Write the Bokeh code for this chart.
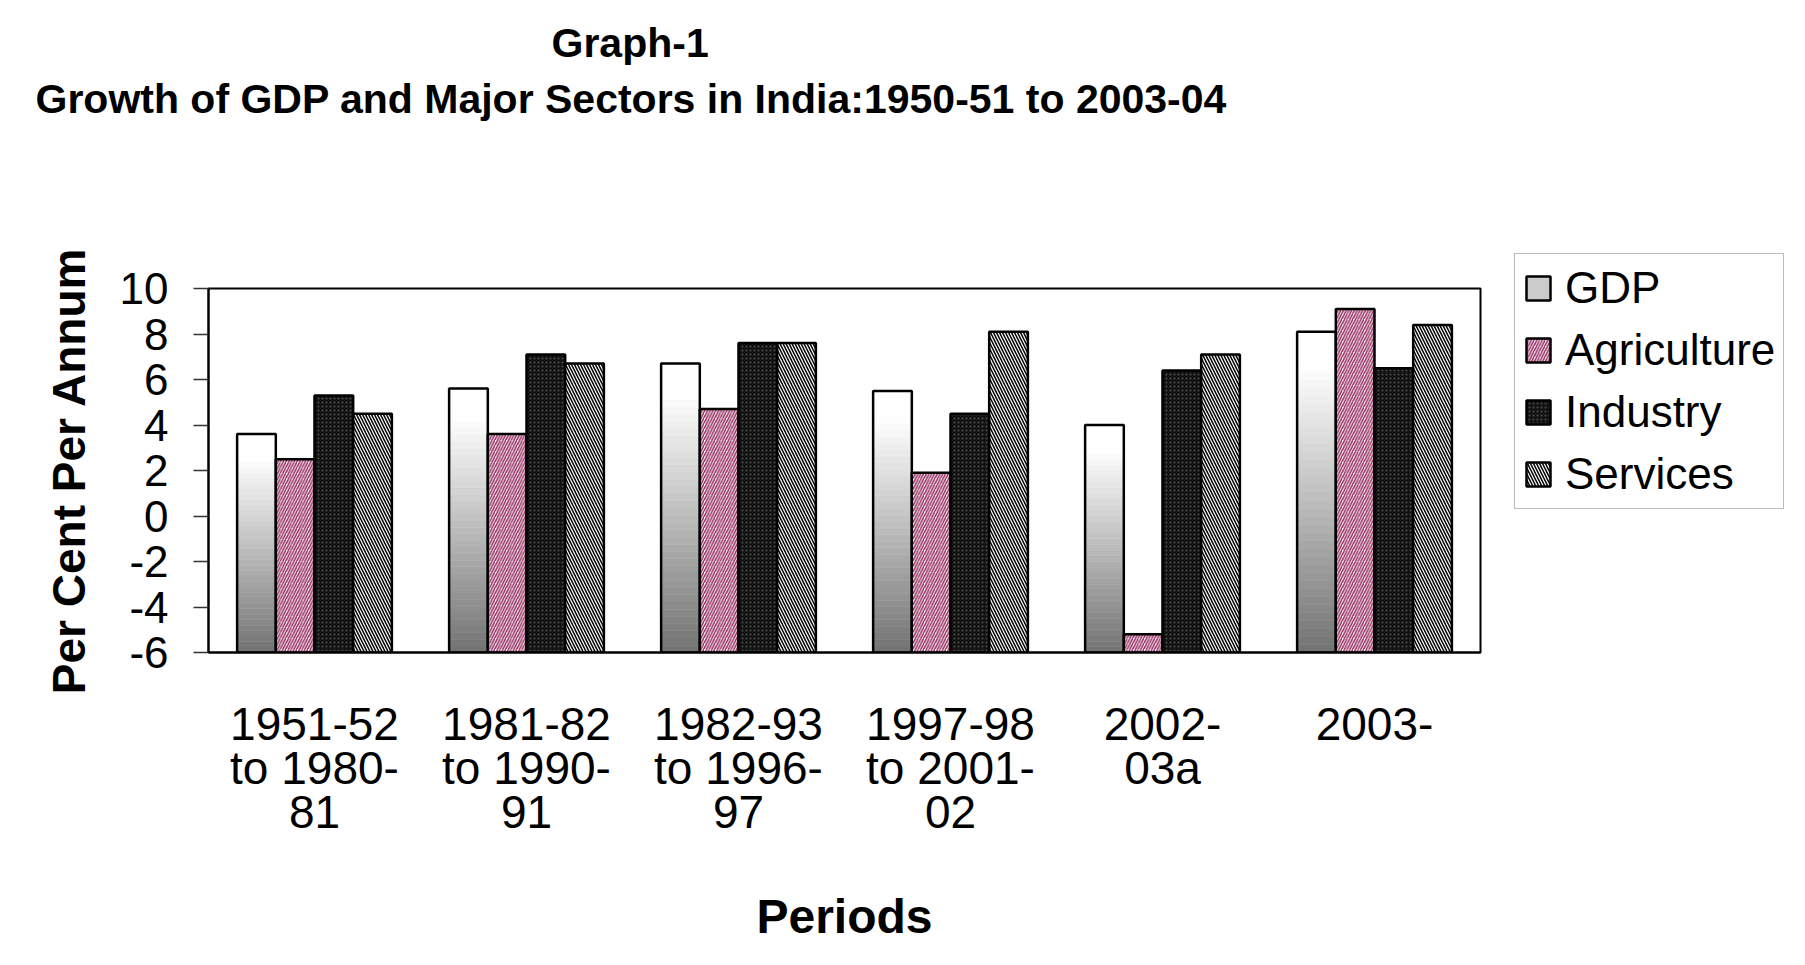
from bokeh.plotting import figure
from bokeh.models import (FactorRange, Range1d, FixedTicker, Legend, LegendItem,
                          Title, ColumnDataSource)
from bokeh.transform import dodge
from bokeh.embed import file_html
from bokeh.resources import INLINE

# ---------------- data ----------------
categories = ["1951-52\nto 1980-\n81", "1981-82\nto 1990-\n91", "1982-93\nto 1996-\n97",
              "1997-98\nto 2001-\n02", "2002-\n03a", "2003-"]
gdp = [3.6, 5.6, 6.7, 5.5, 4.0, 8.1]
agriculture = [2.5, 3.6, 4.7, 1.9, -5.2, 9.1]
industry = [5.3, 7.1, 7.6, 4.5, 6.4, 6.5]
services = [4.5, 6.7, 7.6, 8.1, 7.1, 8.4]
series_names = ["GDP", "Agriculture", "Industry", "Services"]
y_ticks = [-6, -4, -2, 0, 2, 4, 6, 8, 10]
y_tick_labels = ["-6", "-4", "-2", "0", "2", "4", "6", "8", "10"]
y_min, y_max = -6, 10
title_line1 = "Graph-1"
title_line2 = "Growth of GDP and Major Sectors in India:1950-51 to 2003-04"
x_title = "Periods"
y_title = "Per Cent Per Annum"

FONT = "Liberation Sans"
BW = 0.1825
offs = [-1.5 * BW, -0.5 * BW, 0.5 * BW, 1.5 * BW]

p = figure(x_range=FactorRange(factors=categories), y_range=Range1d(y_min, y_max),
           frame_width=1272, frame_height=364, output_backend="svg",
           toolbar_location=None, title=None,
           min_border_left=208, min_border_right=0, min_border_top=288,
           min_border_bottom=305)
p.background_fill_color = "white"
p.border_fill_color = "white"
p.outline_line_color = "black"
p.outline_line_width = 2
p.xgrid.visible = False
p.ygrid.visible = False

# ---------------- GDP gradient (slices of each bar) ----------------
N = 40
k_order = list(range(22, N)) + list(range(0, 22))
sx, sb, st, sc = [], [], [], []
for cat, v in zip(categories, gdp):
    for k in k_order:
        f = (k + 0.5) / N
        g = int(round(0x72 + (0xff - 0x72) * min(1.0, f * 1.12)))
        sx.append(cat)
        sb.append(y_min + (v - y_min) * k / N)
        st.append(y_min + (v - y_min) * (k + 1) / N)
        sc.append("#%02x%02x%02x" % (g, g, g))
src_slices = ColumnDataSource(dict(x=sx, bottom=sb, top=st, color=sc))
r_slices = p.vbar(x=dodge("x", offs[0], range=p.x_range), bottom="bottom", top="top", width=BW,
                  source=src_slices, fill_color="color", line_color="color", line_width=0.6)

src = ColumnDataSource(dict(x=categories, gdp=gdp, agriculture=agriculture,
                            industry=industry, services=services,
                            base=[y_min] * len(categories)))
r_gdp = p.vbar(x=dodge("x", offs[0], range=p.x_range), bottom="base", top="gdp", width=BW,
               source=src, fill_alpha=0, line_color="black", line_width=2.5)
r_agr = p.vbar(x=dodge("x", offs[1], range=p.x_range), bottom="base", top="agriculture", width=BW,
               source=src, fill_color="white", hatch_pattern="/", hatch_color="#993366",
               hatch_scale=5.5, hatch_weight=1.6, line_color="black", line_width=2.5)
r_ind = p.vbar(x=dodge("x", offs[2], range=p.x_range), bottom="base", top="industry", width=BW,
               source=src, fill_color="#121212", hatch_pattern=".", hatch_color="#4a4a4a",
               hatch_scale=4, hatch_weight=1, line_color="black", line_width=2.5)
r_srv = p.vbar(x=dodge("x", offs[3], range=p.x_range), bottom="base", top="services", width=BW,
               source=src, fill_color="white", hatch_pattern="\\", hatch_color="black",
               hatch_scale=6, hatch_weight=1.5, line_color="black", line_width=2.5)

# ---------------- axes ----------------
yax = p.yaxis[0]
yax.ticker = FixedTicker(ticks=y_ticks)
yax.major_label_overrides = {t: s for t, s in zip(y_ticks, y_tick_labels)}
yax.major_label_text_font = FONT
yax.major_label_text_font_size = "44px"
yax.major_label_text_color = "black"
yax.major_tick_out = 15
yax.major_tick_in = 0
yax.minor_tick_out = 0
yax.minor_tick_in = 0
yax.major_tick_line_color = "#333333"
yax.major_tick_line_width = 1.5
yax.axis_line_color = "black"
yax.axis_line_width = 2
yax.major_label_standoff = 25
yax.axis_label = y_title
yax.axis_label_text_font = FONT
yax.axis_label_text_font_size = "46px"
yax.axis_label_text_font_style = "bold"
yax.axis_label_text_color = "black"
yax.axis_label_standoff = 22

xax = p.xaxis[0]
xax.major_label_text_font = FONT
xax.major_label_text_font_size = "46px"
xax.major_label_text_line_height = 0.85
xax.major_label_text_color = "black"
xax.major_tick_out = 0
xax.major_tick_in = 0
xax.minor_tick_out = 0
xax.axis_line_color = "black"
xax.axis_line_width = 2
xax.major_label_standoff = 45
xax.axis_label = x_title
xax.axis_label_text_font = FONT
xax.axis_label_text_font_size = "48px"
xax.axis_label_text_font_style = "bold"
xax.axis_label_text_color = "black"
xax.axis_label_standoff = 49

# ---------------- title: blank spacer band, then two stacked lines ----------------
p.add_layout(Title(text=" ", align="left", standoff=115,
                   text_font=FONT, text_font_size="41px", text_font_style="bold",
                   text_color="white"), "above")
p.add_layout(Title(text=title_line2, align="left", offset=-173, standoff=8,
                   text_font=FONT, text_font_size="41px", text_font_style="bold",
                   text_color="black"), "above")
p.add_layout(Title(text=title_line1, align="left", offset=343, standoff=8,
                   text_font=FONT, text_font_size="41px", text_font_style="bold",
                   text_color="black"), "above")

# ---------------- legend ----------------
legend = Legend(items=[LegendItem(label=series_names[0], renderers=[r_slices, r_gdp]),
                       LegendItem(label=series_names[1], renderers=[r_agr]),
                       LegendItem(label=series_names[2], renderers=[r_ind]),
                       LegendItem(label=series_names[3], renderers=[r_srv])],
                location=(34, 143), orientation="vertical",
                label_text_font=FONT, label_text_font_size="44px", label_text_color="black",
                glyph_width=30, glyph_height=30, label_standoff=12, spacing=10,
                padding=8, margin=0, label_height=52,
                border_line_color="#777777", border_line_width=1.5,
                background_fill_color="white", background_fill_alpha=1)
p.add_layout(legend, "right")

open("out.html", "w").write(file_html(p, INLINE))
